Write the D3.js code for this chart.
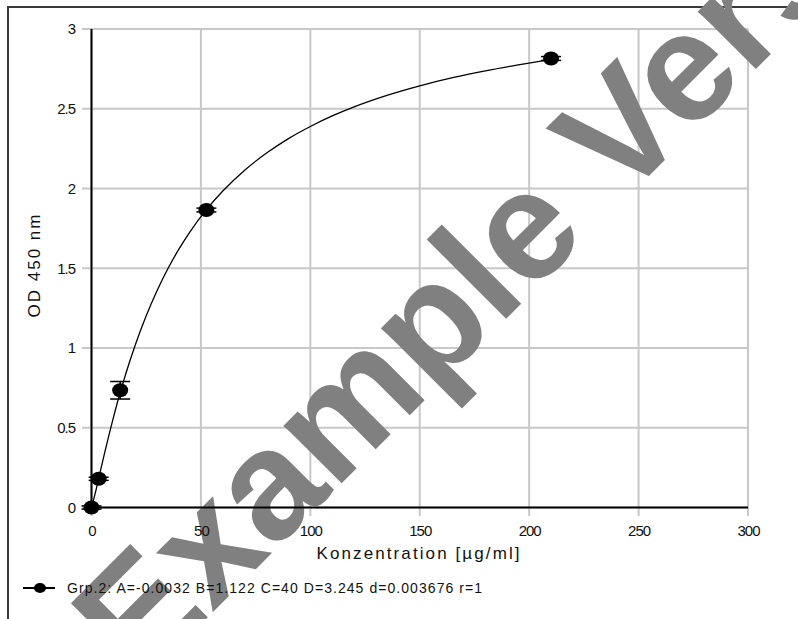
<!DOCTYPE html>
<html>
<head>
<meta charset="utf-8">
<script src="https://cdn.jsdelivr.net/npm/d3@7"></script>
<style>
  html, body { margin: 0; padding: 0; background: #fff; overflow: hidden; }
  svg { display: block; }
  text { font-family: 'Liberation Sans', Arial, sans-serif; }
</style>
</head>
<body>
<script>
// measured standards (concentration in µg/ml, mean OD and spread)
const conc = [0, 3.28, 13.1, 52.5, 210]
const od = [0.0, 0.18, 0.735, 1.865, 2.815]
const odSd = [0.01, 0.01, 0.055, 0.012, 0.012]

// fitted curve
const fitConc = [0, 2, 4, 6, 8, 10, 13, 16, 20, 25, 30, 35, 40, 45, 52.5, 60, 70, 80, 90, 100, 110, 120, 135, 150, 165, 180, 195, 210]
const fitOd = [0, 0.106, 0.225, 0.342, 0.455, 0.563, 0.716, 0.853, 1.019, 1.202, 1.361, 1.5, 1.621, 1.728, 1.867, 1.984, 2.115, 2.222, 2.313, 2.389, 2.455, 2.512, 2.584, 2.644, 2.695, 2.738, 2.775, 2.808]

const xTicks = [0, 50, 100, 150, 200, 250, 300]
const yTicks = [0, 0.5, 1, 1.5, 2, 2.5, 3]
const yTickLabels = ['0', '0.5', '1', '1.5', '2', '2.5', '3']

const legendText = 'Grp.2: A=-0.0032 B=1.122 C=40 D=3.245 d=0.003676 r=1'
const xTitle = 'Konzentration [µg/ml]'
const yTitle = 'OD 450 nm'
const watermark = 'Example Version'

const w = 798
const h = 619
const plotL = 91.5, plotR = 748, plotT = 29, plotB = 507.5

const svg = d3.select('body').append('svg')
    .attr('width', w)
    .attr('height', h)

const x = d3.scaleLinear().domain([0, 300]).range([plotL, plotR])
const y = d3.scaleLinear().domain([0, 3]).range([plotB, plotT])

// outer frame
svg.append('rect')
    .attr('x', 8).attr('y', 7)
    .attr('width', 900).attr('height', 700)
    .attr('fill', 'none')
    .attr('stroke', '#3a3a3a')
    .attr('stroke-width', 2)

// grid
const grid = svg.append('g')
    .attr('stroke', '#c8c8c8')
    .attr('stroke-width', 2)
grid.selectAll('line.h').data(yTicks).enter().append('line')
    .attr('class', 'h')
    .attr('x1', 82).attr('x2', plotR)
    .attr('y1', d => y(d)).attr('y2', d => y(d))
grid.selectAll('line.v').data(xTicks).enter().append('line')
    .attr('class', 'v')
    .attr('x1', d => x(d)).attr('x2', d => x(d))
    .attr('y1', plotT).attr('y2', 516)

// watermark sits above the grid, under the data and labels
svg.append('text')
    .attr('transform', 'translate(139,686) rotate(-45)')
    .attr('fill', '#808080')
    .style('font-size', '155px')
    .style('font-weight', 'bold')
    .text(watermark)

// tick labels
const gy = svg.append('g')
    .attr('transform', 'translate(82,0)')
    .call(d3.axisLeft(y).tickValues(yTicks).tickSize(0).tickPadding(7)
        .tickFormat((d, i) => yTickLabels[i]))
const gx = svg.append('g')
    .attr('transform', 'translate(0,516)')
    .call(d3.axisBottom(x).tickValues(xTicks).tickSize(0).tickPadding(9))
;[gx, gy].forEach(g => {
    g.select('.domain').remove()
    g.selectAll('text')
        .attr('fill', '#111')
        .style('font-size', '15px')
        .style('letter-spacing', '-1px')
})

// axis lines
svg.append('line')
    .attr('x1', plotL).attr('x2', plotL).attr('y1', plotT).attr('y2', plotB)
    .attr('stroke', '#000').attr('stroke-width', 2)
svg.append('line')
    .attr('x1', plotL).attr('x2', plotR).attr('y1', plotB).attr('y2', plotB)
    .attr('stroke', '#000').attr('stroke-width', 2)

// fit curve
const line = d3.line()
    .x(d => x(d[0]))
    .y(d => y(d[1]))
    .curve(d3.curveMonotoneX)
svg.append('path')
    .datum(fitConc.map((c, i) => [c, fitOd[i]]))
    .attr('d', line)
    .attr('fill', 'none')
    .attr('stroke', '#000')
    .attr('stroke-width', 1.3)

// error bars + points
const pts = conc.map((c, i) => ({ c, v: od[i], sd: odSd[i] }))
const eb = svg.append('g').attr('stroke', '#000').attr('stroke-width', 1.5)
pts.forEach(d => {
    eb.append('line').attr('x1', x(d.c)).attr('x2', x(d.c)).attr('y1', y(d.v - d.sd)).attr('y2', y(d.v + d.sd))
    eb.append('line').attr('x1', x(d.c) - 10).attr('x2', x(d.c) + 10).attr('y1', y(d.v - d.sd)).attr('y2', y(d.v - d.sd))
    eb.append('line').attr('x1', x(d.c) - 10).attr('x2', x(d.c) + 10).attr('y1', y(d.v + d.sd)).attr('y2', y(d.v + d.sd))
})
svg.selectAll('ellipse.pt')
    .data(pts)
    .enter()
    .append('ellipse')
    .attr('class', 'pt')
    .attr('cx', d => x(d.c))
    .attr('cy', d => y(d.v))
    .attr('rx', 8)
    .attr('ry', 7)
    .attr('fill', '#000')

// axis titles
svg.append('text')
    .attr('x', 418).attr('y', 559)
    .attr('text-anchor', 'middle')
    .attr('fill', '#111')
    .style('font-size', '17px')
    .attr('textLength', 203)
    .text(xTitle)

svg.append('text')
    .attr('transform', 'translate(40,266) rotate(-90)')
    .attr('text-anchor', 'middle')
    .attr('fill', '#111')
    .style('font-size', '17px')
    .attr('textLength', 103)
    .text(yTitle)

// legend
svg.append('line')
    .attr('x1', 23).attr('x2', 55).attr('y1', 588).attr('y2', 588)
    .attr('stroke', '#000').attr('stroke-width', 2)
svg.append('ellipse')
    .attr('cx', 40).attr('cy', 588).attr('rx', 6).attr('ry', 5)
    .attr('fill', '#000')
svg.append('text')
    .attr('x', 67).attr('y', 593)
    .attr('fill', '#111')
    .style('font-size', '14px')
    .attr('textLength', 415)
    .text(legendText)
</script>
</body>
</html>
